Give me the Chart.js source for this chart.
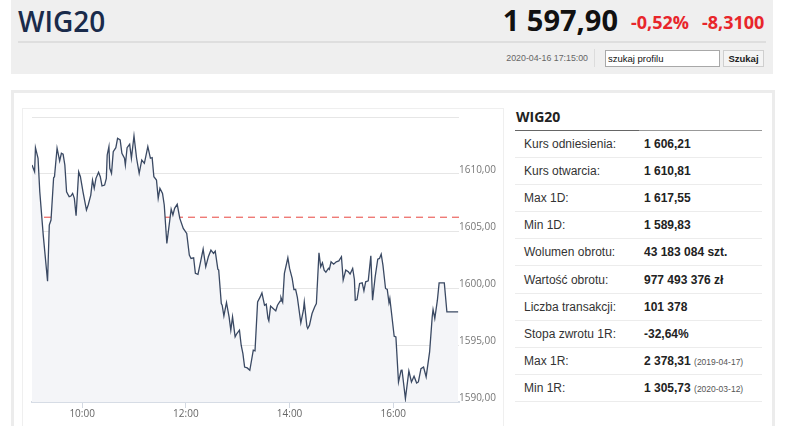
<!DOCTYPE html>
<html>
<head>
<meta charset="utf-8">
<script src="https://cdn.jsdelivr.net/npm/chart.js@4.4.1/dist/chart.umd.min.js"></script>
<style>
  body { margin: 0; width: 786px; height: 426px; overflow: hidden; background: #fff; position: relative; font-family: "Liberation Sans", Arial, sans-serif; }
  .abs { position: absolute; }
  #head { left: 11px; top: 0; width: 762px; height: 74px; background: #efefef; }
  #title { left: 18px; top: 2px; font: 600 28px "Open Sans", sans-serif; color: #1a2b4b; line-height: 38px; }
  #price { right: 168px; top: 1px; font: 700 29px "Open Sans", sans-serif; color: #111; line-height: 38px; }
  .chg { top: 10px; font: 700 18px "Open Sans", sans-serif; color: #e8262b; line-height: 24px; }
  #sep { left: 18px; top: 41px; width: 748px; height: 2px; background: #dedede; }
  #date { right: 198px; top: 52px; font-size: 8.8px; color: #666; line-height: 12px; }
  #vsep { left: 594px; top: 49px; width: 1px; height: 18px; background: #dcdcdc; }
  #search { left: 605px; top: 50px; width: 111px; height: 15px; background: #fff; border: 1px solid #a8a8a8; font-size: 9.5px; line-height: 15px; padding-left: 2px; box-sizing: content-box; color: #111; }
  #btn { left: 723px; top: 50px; width: 39px; height: 15px; background: #f4f4f4; border: 1px solid #cfcfcf; font-weight: bold; font-size: 9.5px; line-height: 15px; text-align: center; color: #222; }
  #panel { left: 11px; top: 90px; width: 758px; height: 350px; border: 3px solid #ececec; }
  #chartbox { left: 22px; top: 108px; width: 480px; height: 330px; border: 1px solid #efefef; }
  #wrap { left: 23px; top: 109px; width: 478px; height: 317px; }
  #thead { left: 516px; top: 107px; font: 700 14px "Open Sans", sans-serif; color: #222; line-height: 20px; }
  #tline1 { left: 515px; top: 130px; width: 124px; height: 1px; background: #666; }
  #tline2 { left: 639px; top: 130px; width: 123px; height: 1px; background: #999; }
  .row { left: 515px; width: 247px; height: 26px; border-bottom: 1px solid #ececec; }
  .lab { position: absolute; left: 9px; top: 6px; font-size: 12px; color: #333; line-height: 15px; }
  .val { position: absolute; left: 129px; top: 6px; font-size: 12px; font-weight: bold; color: #222; line-height: 15px; }
  .val small { font-size: 8.5px; font-weight: normal; color: #555; }
</style>
</head>
<body>
<div id="head" class="abs"></div>
<div id="title" class="abs">WIG20</div>
<div id="price" class="abs">1 597,90</div>
<div class="abs chg" style="left:631px">-0,52%</div>
<div class="abs chg" style="left:702px">-8,3100</div>
<div id="sep" class="abs"></div>
<div id="date" class="abs">2020-04-16 17:15:00</div>
<div id="vsep" class="abs"></div>
<div id="search" class="abs">szukaj profilu</div>
<div id="btn" class="abs">Szukaj</div>

<div id="panel" class="abs"></div>
<div id="chartbox" class="abs"></div>
<div id="wrap" class="abs"><canvas id="wigChart"></canvas></div>

<div id="thead" class="abs">WIG20</div>
<div id="tline1" class="abs"></div>
<div id="tline2" class="abs"></div>
<div id="table"></div>

<script>
// intraday quotes
const times = [
  '9:02', '9:05', '9:06', '9:09', '9:11', '9:15', '9:20', '9:22', '9:24', '9:27',
  '9:28', '9:31', '9:34', '9:36', '9:38', '9:40', '9:42', '9:45', '9:47', '9:49',
  '9:51', '9:53', '9:56', '9:58', '10:01', '10:05', '10:07', '10:10', '10:12', '10:14',
  '10:16', '10:19', '10:21', '10:23', '10:26', '10:28', '10:29', '10:31', '10:32', '10:34',
  '10:36', '10:39', '10:41', '10:44', '10:46', '10:49', '10:50', '10:52', '10:55', '10:57',
  '11:00', '11:03', '11:06', '11:09', '11:12', '11:16', '11:19', '11:21', '11:23', '11:26',
  '11:28', '11:30', '11:33', '11:35', '11:38', '11:43', '11:45', '11:47', '11:50', '11:53',
  '11:57', '12:01', '12:04', '12:06', '12:09', '12:11', '12:14', '12:17', '12:20', '12:23',
  '12:26', '12:29', '12:32', '12:34', '12:37', '12:38', '12:41', '12:42', '12:44', '12:47',
  '12:50', '12:52', '12:54', '12:57', '12:59', '13:02', '13:04', '13:06', '13:08', '13:11',
  '13:14', '13:18', '13:20', '13:23', '13:26', '13:28', '13:31', '13:33', '13:35', '13:36',
  '13:38', '13:41', '13:44', '13:46', '13:49', '13:50', '13:52', '13:54', '13:58', '14:00',
  '14:03', '14:05', '14:07', '14:09', '14:13', '14:16', '14:17', '14:20', '14:21', '14:23',
  '14:26', '14:29', '14:31', '14:34', '14:36', '14:38', '14:40', '14:42', '14:45', '14:46',
  '14:48', '14:51', '14:54', '14:57', '15:00', '15:02', '15:05', '15:08', '15:10', '15:13',
  '15:15', '15:16', '15:18', '15:21', '15:24', '15:26', '15:28', '15:31', '15:34', '15:36',
  '15:39', '15:42', '15:44', '15:46', '15:48', '15:51', '15:53', '15:55', '15:56', '15:58',
  '16:01', '16:03', '16:06', '16:09', '16:10', '16:14', '16:18', '16:21', '16:24', '16:27',
  '16:29', '16:32', '16:35', '16:38', '16:42', '16:45', '16:46', '16:48', '16:51', '16:53',
  '16:59', '17:02', '17:15'
];
const prices = [
  1610.79, 1610.20, 1612.31, 1611.38, 1608.44, 1604.64, 1600.60, 1605.52, 1605.96, 1609.67,
  1609.76, 1612.26, 1611.14, 1611.82, 1611.73, 1610.79, 1608.44, 1608.01, 1608.07, 1608.30,
  1607.86, 1606.34, 1610.20, 1609.76, 1608.44, 1606.84, 1607.28, 1608.15, 1609.47, 1608.74,
  1609.62, 1610.15, 1609.76, 1608.95, 1609.03, 1609.62, 1611.67, 1612.40, 1610.50, 1610.06,
  1611.96, 1612.31, 1613.13, 1612.99, 1611.82, 1611.38, 1610.79, 1612.31, 1612.61, 1611.38,
  1613.34, 1611.38, 1610.06, 1611.23, 1610.94, 1612.40, 1611.38, 1611.43, 1609.76, 1609.47,
  1607.86, 1608.74, 1608.30, 1607.28, 1603.91, 1606.92, 1606.40, 1606.99, 1607.34, 1606.11,
  1605.23, 1604.79, 1602.88, 1602.59, 1602.65, 1601.28, 1601.19, 1602.30, 1603.41, 1601.86,
  1602.74, 1603.32, 1603.03, 1603.24, 1601.65, 1601.57, 1598.64, 1598.49, 1597.55, 1598.73,
  1597.47, 1596.30, 1597.47, 1595.71, 1596.01, 1596.30, 1594.98, 1594.25, 1593.07, 1592.99,
  1592.78, 1594.54, 1594.48, 1598.78, 1599.22, 1599.57, 1598.49, 1598.58, 1597.33, 1597.11,
  1598.41, 1598.20, 1597.99, 1598.49, 1598.84, 1599.17, 1598.76, 1601.28, 1602.65, 1601.72,
  1600.84, 1599.87, 1599.87, 1599.17, 1596.94, 1598.05, 1598.78, 1596.65, 1596.45, 1596.74,
  1597.76, 1598.34, 1598.64, 1603.09, 1601.86, 1602.21, 1601.57, 1601.39, 1601.72, 1601.63,
  1602.30, 1602.09, 1602.30, 1602.38, 1602.74, 1600.69, 1601.57, 1601.42, 1601.22, 1601.72,
  1600.75, 1598.93, 1598.99, 1600.40, 1600.45, 1599.75, 1600.54, 1600.63, 1602.82, 1598.93,
  1600.98, 1602.53, 1602.59, 1602.97, 1602.01, 1599.96, 1599.87, 1598.70, 1599.08, 1597.76,
  1595.77, 1595.71, 1591.76, 1592.78, 1592.85, 1590.30, 1592.72, 1591.76, 1592.26, 1591.67,
  1591.76, 1592.93, 1593.07, 1592.20, 1594.39, 1597.47, 1598.12, 1597.33, 1598.93, 1600.45,
  1600.45, 1597.90, 1597.90
];
const refPrice = 1606.21;
const xRange = ['9:02', '17:16'];
const xTickLabels = ['10:00', '12:00', '14:00', '16:00'];
const yTicks = [1590, 1595, 1600, 1605, 1610, 1615];

const tableLabels = ['Kurs odniesienia:', 'Kurs otwarcia:', 'Max 1D:', 'Min 1D:', 'Wolumen obrotu:',
  'Wartość obrotu:', 'Liczba transakcji:', 'Stopa zwrotu 1R:', 'Max 1R:', 'Min 1R:'];
const tableValues = ['1 606,21', '1 610,81', '1 617,55', '1 589,83', '43 183 084 szt.',
  '977 493 376 zł', '101 378', '-32,64%', '2 378,31', '1 305,73'];
const tableDates = ['', '', '', '', '', '', '', '', '2019-04-17', '2020-03-12'];

function toMin(t) {
  const p = t.split(':');
  return +p[0] * 60 + +p[1];
}
function fmtMin(m) {
  const h = Math.floor(m / 60), mm = m % 60;
  return h + ':' + (mm < 10 ? '0' : '') + mm;
}

// side table
const tbl = document.getElementById('table');
tableLabels.forEach(function (lab, i) {
  const row = document.createElement('div');
  row.className = 'abs row';
  row.style.top = (131 + i * 27.1) + 'px';
  let v = tableValues[i];
  if (tableDates[i]) v += ' <small>(' + tableDates[i] + ')</small>';
  row.innerHTML = '<span class="lab">' + lab + '</span><span class="val">' + v + '</span>';
  tbl.appendChild(row);
});

const xMin = toMin(xRange[0]), xMax = toMin(xRange[1]);
const tickFont = { family: '"Open Sans", sans-serif', size: 10 };

new Chart(document.getElementById('wigChart').getContext('2d'), {
  type: 'line',
  data: {
    datasets: [{
      data: times.map(function (t, i) { return { x: toMin(t), y: prices[i] }; }),
      borderColor: '#3a4963',
      borderWidth: 1.3,
      backgroundColor: '#f4f5f8',
      fill: 'start',
      pointRadius: 0,
      tension: 0
    }, {
      data: [{ x: xMin, y: refPrice }, { x: xMax, y: refPrice }],
      borderColor: '#e8453f',
      borderWidth: 1,
      borderDash: [7, 5],
      fill: false,
      pointRadius: 0
    }]
  },
  options: {
    responsive: true,
    maintainAspectRatio: false,
    animation: false,
    layout: { padding: { left: 9, top: 8, right: 0, bottom: 0 } },
    plugins: { legend: { display: false }, tooltip: { enabled: false } },
    scales: {
      x: {
        type: 'linear',
        min: xMin,
        max: xMax,
        afterBuildTicks: function (scale) {
          scale.ticks = xTickLabels.map(function (t) { return { value: toMin(t) }; });
        },
        afterFit: function (scale) { scale.height = 24; },
        grid: { drawOnChartArea: false, tickLength: 6, color: '#d3d9e2' },
        border: { color: '#d6dce5', width: 2 },
        ticks: {
          font: tickFont,
          color: '#666',
          padding: 0,
          maxRotation: 0,
          callback: function (v) { return fmtMin(v); }
        }
      },
      y: {
        position: 'right',
        min: yTicks[0],
        max: yTicks[yTicks.length - 1],
        afterBuildTicks: function (scale) {
          scale.ticks = yTicks.map(function (v) { return { value: v }; });
        },
        afterFit: function (scale) { scale.width = 42; },
        grid: { color: '#e6e6e6', drawTicks: false },
        border: { display: false },
        ticks: {
          font: tickFont,
          color: '#777',
          padding: 0,
          labelOffset: -4,
          callback: function (v) { return v === 1615 ? '' : v.toFixed(2).replace('.', ','); }
        }
      }
    }
  }
});
</script>
</body>
</html>
